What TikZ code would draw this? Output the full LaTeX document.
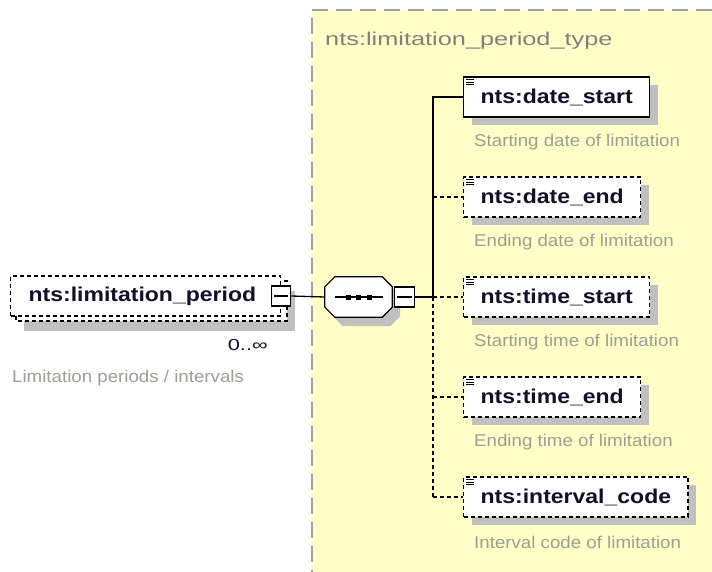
\documentclass[tikz,border=0pt]{standalone}
\usepackage{fontspec}
\usepackage{tikz}
\usetikzlibrary{shadows}
\setmainfont{Liberation Sans}
\newfontfamily\namefont[FakeStretch=1.15]{Liberation Sans}
\newfontfamily\titlefont[FakeStretch=1.37]{Liberation Sans}
\newfontfamily\descfont[FakeStretch=1.1]{Liberation Sans}
\definecolor{panelYellow}{HTML}{FFFFC8}
\definecolor{panelBorder}{HTML}{A0A0A0}
\definecolor{shadowGray}{HTML}{C0C0C0}
\definecolor{titleGray}{HTML}{808080}
\definecolor{descGray}{HTML}{9AA094}
\definecolor{nameInk}{HTML}{101028}

\begin{document}
\begin{tikzpicture}[x=1pt, y=-1pt,
      conn/.style={line width=1.3pt},
      optline/.style={dash pattern=on 4pt off 3pt},
      elem/.style={draw, fill=white, line width=1.3pt, anchor=west, minimum height=40pt,
            inner xsep=17pt, text=nameInk, font=\namefont\bfseries\fontsize{20}{24}\selectfont},
      boxshadow/.style={drop shadow={shadow xshift=8pt, shadow yshift=-8pt, fill=shadowGray, opacity=1}},
      minusbox/.style={draw, fill=white, line width=1.2pt, minimum width=19pt, minimum height=20pt, inner sep=0pt},
      desc/.style={anchor=west, text=descGray, inner sep=0pt, font=\descfont\fontsize{17}{20}\selectfont}]
      \useasboundingbox (0,0) rectangle (712,572);
      \fill[white] (0,0) rectangle (712,572);

      % Type panel
      \fill[panelYellow] (312,10) rectangle (712,572);
      \draw[panelBorder, line width=1.5pt, dash pattern=on 16pt off 8pt] (712,10) -- (312,10) -- (312,572);
      \node[anchor=base west, inner sep=0pt, text=titleGray, font=\titlefont\fontsize{18.5}{22}\selectfont]
            (ptitle) at (325,46) {nts:limitation\_period\_type};

      % Repeated element on the left
      \fill[shadowGray] (24,291) rectangle (295,331);
      \draw[optline, fill=white, line width=1.2pt] (16,281) rectangle (287,321);
      \node[elem, optline, text width=234pt, align=left, inner xsep=18pt]
            (period) at (10,296) {nts:limitation\_period};
      \node[minusbox] (pminus) at (period.east) {};
      \draw[conn] ([xshift=3pt]pminus.west) -- ([xshift=-3pt]pminus.east);
      \node[anchor=east, inner sep=0pt, text=nameInk, font=\titlefont\fontsize{16}{19}\selectfont]
            (occurs) at (268,345) {0..∞};
      \node[desc] (perioddesc) at (12,378) {Limitation periods / intervals};

      % Sequence compositor
      \node[minimum width=67pt, minimum height=40pt, inner sep=0pt] (seq) at (358.5,297) {};
      \draw[line width=1.2pt, fill=white,
            drop shadow={shadow xshift=8pt, shadow yshift=-9pt, fill=shadowGray, opacity=1}]
            ([xshift=10pt]seq.north west) -- ([xshift=-10pt]seq.north east)
            -- ([yshift=-10pt]seq.north east) -- ([yshift=10pt]seq.south east)
            -- ([xshift=-10pt]seq.south east) -- ([xshift=10pt]seq.south west)
            -- ([yshift=10pt]seq.south west) -- ([yshift=-10pt]seq.north west) -- cycle;
      \draw[conn] ([xshift=-24pt]seq.center) -- ([xshift=24pt]seq.center);
      \foreach \dx in {-10,0,11} {
            \fill ([xshift=\dx pt]seq.center) +(-2.5,-2.5) rectangle +(2.5,2.5);
      }
      \node[minusbox, minimum width=20pt, anchor=west] (seqminus) at ([xshift=2pt]seq.east) {};
      \draw[conn] ([xshift=3pt]seqminus.west) -- ([xshift=-3pt]seqminus.east);
      \coordinate (spine) at (433,297);

      % Child elements
      \node[elem, boxshadow] (datestart) at (463,97) {nts:date\_start};
      \node[desc] (datestartdesc) at (474,142) {Starting date of limitation};
      \foreach \el/\txt/\dsc/\y in {dateend/nts:date\_end/Ending date of limitation/197,
                                    timestart/nts:time\_start/Starting time of limitation/297,
                                    timeend/nts:time\_end/Ending time of limitation/397,
                                    intervalcode/nts:interval\_code/Interval code of limitation/497} {
            \node[elem, optline, boxshadow] (\el) at (463,\y) {\txt};
            \node[desc] (\el desc) at (474,{\y+45}) {\dsc};
      }
      \foreach \el in {datestart,dateend,timestart,timeend,intervalcode} {
            \foreach \k in {0,1,2} {
                  \draw[line width=0.9pt] ([xshift=3pt, yshift={-3pt-2.7pt*\k}]\el.north west) -- ++(8,0);
            }
      }

      % Connectors
      \draw[conn] (pminus.east) -- (seq.west);
      \draw[conn] (seqminus.east) -- (spine);
      \draw[conn] (spine) |- (datestart.west);
      \draw[conn, optline] (spine) -- (spine |- intervalcode.west);
      \foreach \el in {dateend,timestart,timeend,intervalcode} {
            \draw[conn, optline] (spine |- \el.west) -- (\el.west);
      }
\end{tikzpicture}
\end{document}
